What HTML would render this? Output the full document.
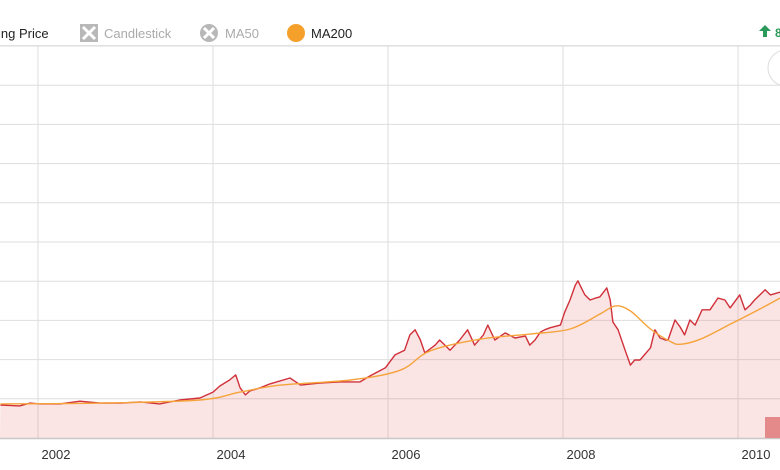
<!DOCTYPE html>
<html><head><meta charset="utf-8"><style>
body{margin:0;background:#fff;font-family:"Liberation Sans",sans-serif}
#wrap{position:relative;width:780px;height:470px;overflow:hidden}
</style></head><body>
<div id="wrap">
<svg id="c" width="780" height="470" xmlns="http://www.w3.org/2000/svg"></svg>
</div>
<script>
const years=[2002,2004,2006,2008,2010];
const yTicks=[10,20,30,40,50,60,70,80,90,100];
const priceDates=[2001.57,2001.79,2001.91,2002.02,2002.25,2002.48,2002.71,2002.94,2003.17,2003.39,2003.62,2003.85,2004.00,2004.08,2004.19,2004.26,2004.31,2004.37,2004.42,2004.54,2004.65,2004.88,2005.00,2005.22,2005.45,2005.68,2005.79,2005.97,2006.08,2006.19,2006.25,2006.31,2006.37,2006.42,2006.54,2006.59,2006.71,2006.82,2006.91,2006.99,2007.09,2007.14,2007.22,2007.34,2007.45,2007.57,2007.62,2007.68,2007.74,2007.79,2007.85,2007.97,2008.02,2008.08,2008.14,2008.17,2008.22,2008.25,2008.31,2008.37,2008.42,2008.50,2008.54,2008.57,2008.63,2008.71,2008.77,2008.82,2008.88,2009.00,2009.05,2009.11,2009.17,2009.20,2009.28,2009.34,2009.39,2009.45,2009.51,2009.59,2009.68,2009.77,2009.85,2009.91,2010.02,2010.08,2010.14,2010.19,2010.31,2010.37,2010.48];
const priceValues=[8.4,8.2,8.9,8.7,8.7,9.4,8.9,8.9,9.2,8.7,9.7,10.2,11.7,13.3,14.8,16.1,12.8,11.0,12.0,12.8,13.8,15.3,13.5,14.0,14.3,14.3,15.8,17.9,21.2,22.4,26.3,27.6,25.0,21.7,23.7,25.0,22.4,25.0,27.6,23.7,26.3,28.8,25.0,26.8,25.5,26.0,23.7,25.0,27.0,27.6,28.1,28.8,32.1,35.2,39.0,40.1,37.8,36.5,35.2,35.7,36.0,38.3,35.2,29.6,27.6,22.4,18.6,19.9,19.9,23.0,27.6,25.5,25.0,25.0,30.1,28.3,26.3,30.1,28.8,32.7,32.7,35.7,35.2,33.2,36.5,32.7,33.9,35.2,37.8,36.5,37.2];
const maDates=[2001.57,2002.71,2003.85,2004.31,2004.77,2005.57,2006.14,2006.48,2007.05,2007.62,2008.08,2008.42,2008.60,2008.77,2009.00,2009.22,2009.34,2009.57,2009.91,2010.25,2010.48];
const maValues=[8.7,8.9,9.7,11.7,13.5,14.8,17.3,22.2,25.2,26.5,27.8,31.6,33.7,32.4,27.8,24.7,23.9,25.2,29.0,32.9,35.7];

const NS='http://www.w3.org/2000/svg';
const svg=document.getElementById('c');
const X=d=>38+(d-2002)*87.5;
const Y=v=>438-v*3.92;
function el(t,a,p){const e=document.createElementNS(NS,t);for(const k in a)e.setAttribute(k,a[k]);(p||svg).appendChild(e);return e;}

const grid=el('g',{});


yTicks.forEach(t=>{const l=el('line',{x1:0,x2:780,y1:Y(t),y2:Y(t),stroke:'#dedede','stroke-width':1},grid);

});
years.forEach(y=>{const l=el('line',{x1:X(y),x2:X(y),y1:46,y2:438,stroke:'#dedede','stroke-width':1},grid);

});

let pd=priceDates.map((d,i)=>X(d).toFixed(1)+','+Y(priceValues[i]).toFixed(1));
const area=el('path',{d:'M'+pd.join(' L')+' L780,438 L0,438 Z',fill:'rgba(230,90,90,0.16)'});


const line=el('path',{d:'M'+pd.join(' L'),fill:'none',stroke:'#d0303a','stroke-width':1.4,'stroke-linejoin':'round'});


// smooth MA path (Catmull-Rom)
const mp=maDates.map((d,i)=>[X(d),Y(maValues[i])]);
let mdStr='M'+mp[0][0].toFixed(1)+','+mp[0][1].toFixed(1);
for(let i=0;i<mp.length-1;i++){
  const p0=mp[Math.max(0,i-1)],p1=mp[i],p2=mp[i+1],p3=mp[Math.min(mp.length-1,i+2)];
  const c1=[p1[0]+(p2[0]-p0[0])/6,p1[1]+(p2[1]-p0[1])/6];
  const c2=[p2[0]-(p3[0]-p1[0])/6,p2[1]-(p3[1]-p1[1])/6];
  mdStr+=' C'+c1[0].toFixed(1)+','+c1[1].toFixed(1)+' '+c2[0].toFixed(1)+','+c2[1].toFixed(1)+' '+p2[0].toFixed(1)+','+p2[1].toFixed(1);
}
const ma=el('path',{d:mdStr,fill:'none',stroke:'#f5a33a','stroke-width':1.4,'stroke-linejoin':'round'});



const ax=el('line',{x1:0,x2:780,y1:438.5,y2:438.5,stroke:'#c8c8c8','stroke-width':1.5});


years.forEach(y=>{const t=el('text',{x:X(y)+18,y:459,'text-anchor':'middle','font-size':13,fill:'#333','font-family':'Liberation Sans, sans-serif'});t.textContent=y;

});
const topBorder=el('line',{x1:0,x2:780,y1:45.5,y2:45.5,stroke:'#e0e0e0','stroke-width':1});



const lg=el('g',{'font-size':13,'font-family':'Liberation Sans, sans-serif'});


let t1=el('text',{x:-2,y:38,fill:'#222'},lg);t1.textContent='ing Price';


let g2=el('g',{},lg);


el('rect',{x:80,y:24,width:18,height:18,fill:'#b8b8b8'},g2);
el('path',{d:'M83,27 L95,39 M95,27 L83,39',stroke:'#fff','stroke-width':3},g2);
let t2=el('text',{x:104,y:38,fill:'#aaa'},g2);t2.textContent='Candlestick';
let g3=el('g',{},lg);


el('circle',{cx:209,cy:33,r:9,fill:'#b8b8b8'},g3);
el('path',{d:'M204,28 L214,38 M214,28 L204,38',stroke:'#fff','stroke-width':3},g3);
let t3=el('text',{x:225,y:38,fill:'#aaa'},g3);t3.textContent='MA50';
let g4=el('g',{},lg);


el('circle',{cx:296,cy:33,r:9,fill:'#f5a02a'},g4);
let t4=el('text',{x:311,y:38,fill:'#222'},g4);t4.textContent='MA200';

const arr=el('path',{d:'M765,25 L759,31 L763,31 L763,37 L767,37 L767,31 L771,31 Z',fill:'#2a9a5a'});


const ct=el('text',{x:775,y:37,'font-size':12,fill:'#2a9a5a','font-weight':'bold'});ct.textContent='8';


const btn=el('circle',{cx:786,cy:68,r:18,fill:'#fff',stroke:'#ddd','stroke-width':1});


const nav=el('rect',{x:765,y:417,width:20,height:21,fill:'#e58a8a'});


</script>
</body></html>
